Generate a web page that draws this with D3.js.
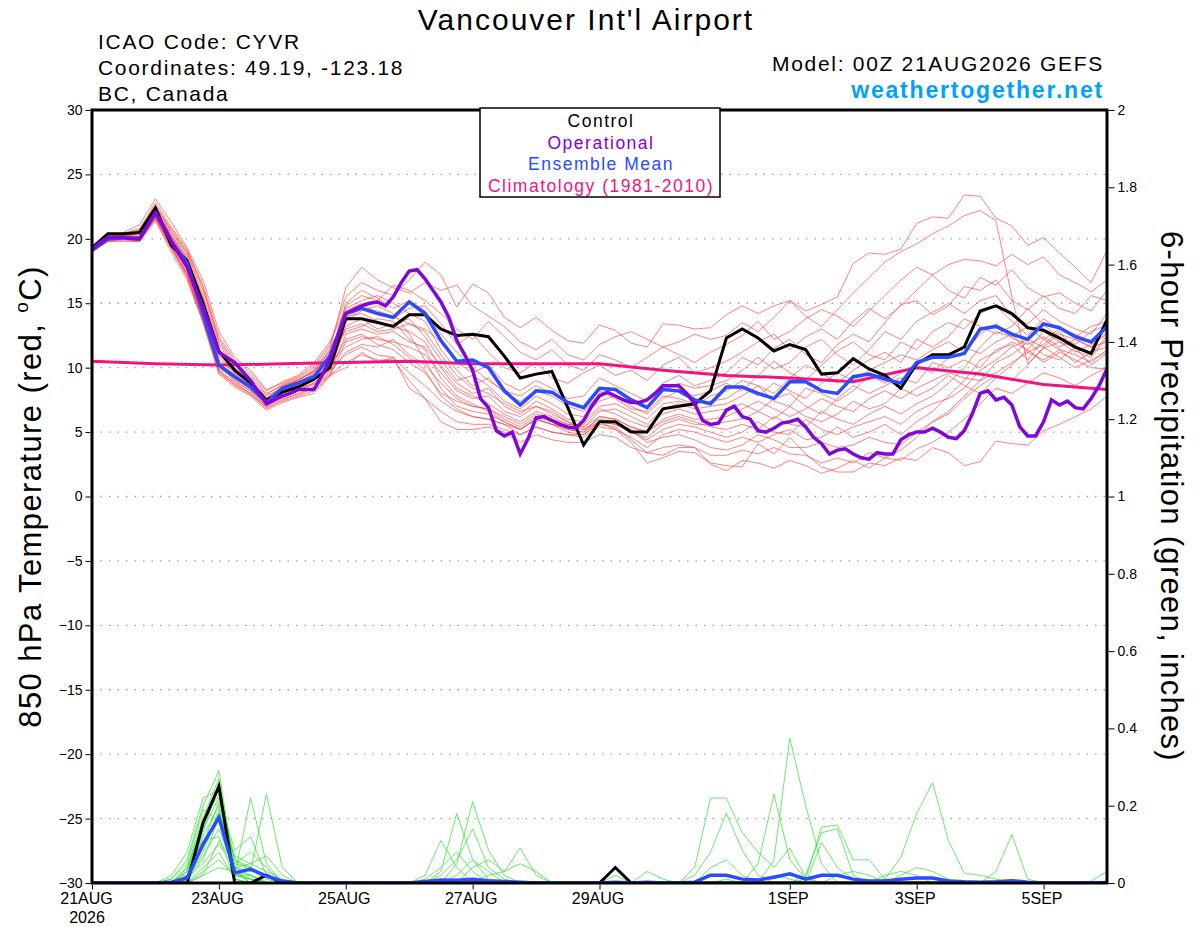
<!DOCTYPE html>
<html>
<head>
<meta charset="utf-8">
<script src="https://cdn.jsdelivr.net/npm/d3@7"></script>
<style>
  body { margin: 0; background: #fff; }
  svg { display: block; }
  text { font-family: "Liberation Sans", Arial, Helvetica, sans-serif; }
</style>
</head>
<body>
<div id="chart"></div>
<script>
// ---- data (6-hourly steps from 00Z 21AUG2026, 0..384 h) ----
const tickHours = [0, 48, 96, 144, 192, 264, 312, 360];
const tickLabels = ["21AUG", "23AUG", "25AUG", "27AUG", "29AUG", "1SEP", "3SEP", "5SEP"];
const tempTicks = [-30, -25, -20, -15, -10, -5, 0, 5, 10, 15, 20, 25, 30];
const precipTicks = [0, 0.2, 0.4, 0.6, 0.8, 1, 1.2, 1.4, 1.6, 1.8, 2];

const controlTemp = [19.3, 20.4, 20.4, 20.5, 22.4, 19.5, 18.3, 15.0, 11.3, 9.8, 8.8, 7.5, 8.1, 8.5, 9.1, 10.0,
  13.8, 13.8, 13.5, 13.2, 14.1, 14.1, 13.0, 12.5, 12.6, 12.4, 10.9, 9.2, 9.5, 9.7, 6.9, 4.0, 5.8, 5.8, 5.0, 5.0,
  6.8, 7.0, 7.2, 8.2, 12.3, 13.0, 12.3, 11.3, 11.8, 11.4, 9.5, 9.6, 10.7, 9.9, 9.4, 8.4, 10.3, 11.0, 11.0, 11.6,
  14.4, 14.8, 14.2, 13.1, 12.9, 12.3, 11.6, 11.1, 13.7];

const meanTemp = [19.1, 20.0, 20.1, 20.0, 22.0, 19.8, 18.1, 14.2, 10.2, 9.3, 8.5, 7.3, 8.4, 8.8, 9.3, 10.9,
  14.2, 14.6, 14.2, 13.9, 15.1, 14.2, 12.1, 10.5, 10.6, 10.0, 8.2, 7.1, 8.2, 8.1, 7.3, 6.9, 8.4, 8.3, 7.5, 6.9,
  8.3, 8.2, 7.5, 7.2, 8.5, 8.5, 8.0, 7.6, 8.9, 8.9, 8.2, 8.0, 9.3, 9.5, 9.1, 8.8, 10.4, 10.8, 10.8, 11.1,
  13.0, 13.2, 12.6, 12.2, 13.4, 13.1, 12.4, 12.0, 13.2];

// operational run is 3-hourly
const operationalTemp = [19.2, 19.7, 20.1, 20.1, 20.1, 20.0, 20.0, 21.0, 22.0, 21.0,
  19.8, 18.8, 17.8, 16.2, 14.7, 13.0, 11.2, 10.8, 10.4, 9.7,
  9.0, 8.1, 7.2, 7.5, 7.8, 8.0, 8.3, 8.3, 8.3, 9.4,
  10.6, 12.4, 14.2, 14.5, 14.8, 15.0, 15.1, 14.8, 15.5, 16.6,
  17.5, 17.6, 16.9, 16.0, 15.1, 13.9, 12.1, 11.0, 9.8, 7.6,
  6.9, 5.1, 4.7, 5.0, 3.3, 4.5, 6.1, 6.2, 5.9, 5.6,
  5.4, 5.3, 5.9, 7.0, 7.8, 8.1, 7.8, 7.5, 7.3, 7.3,
  7.5, 8.0, 8.6, 8.6, 8.6, 8.0, 7.2, 5.9, 5.6, 5.7,
  6.7, 7.0, 6.2, 6.0, 5.1, 5.0, 5.3, 5.7, 5.8, 6.0,
  5.4, 4.6, 4.1, 3.3, 3.6, 3.7, 3.3, 3.0, 2.9, 3.4,
  3.3, 3.3, 4.4, 4.8, 5.0, 5.0, 5.3, 5.0, 4.6, 4.5,
  5.1, 6.4, 8.0, 8.2, 7.5, 7.7, 7.1, 5.4, 4.7, 4.7,
  5.8, 7.5, 7.1, 7.4, 6.9, 6.8, 7.6, 8.6, 9.9];

// climatology, one value per day
const climatologyTemp = [10.5, 10.3, 10.2, 10.3, 10.4, 10.5, 10.3, 10.3, 10.3, 9.8, 9.4, 9.2, 8.9, 10.0, 9.5, 8.7, 8.3];

// ensemble members, 850 hPa temperature
const memberTemps = [
  [19.3,20.3,20.5,21.1,23.1,21.3,19.3,16.8,12.8,10.8,9.8,8.3,8.8,9.3,10.2,11.8, 15.5,16.6,16.0,15.6,16.8,18.2,
   17.2,14.7,16.5,15.8,13.9,13.1,13.9,12.9,12.1,11.9,13.3,12.9,11.9,11.6,13.4,13.3,13.0,13.1,
   14.1,14.8,14.2,14.8,15.2,14.4,14.9,15.5,18.1,18.9,18.8,19.2,21.2,21.7,21.6,23.4,23.3,21.6,21.0,19.5,20.1,18.9,17.8,16.6,19.1],
  [19.2,20.2,20.4,20.8,22.6,20.6,18.9,16.0,12.2,10.4,9.4,8.0,8.6,9.0,9.8,11.4, 16.2,17.8,16.8,16.2,15.8,16.6,
   16.0,16.4,14.8,14.0,13.2,12.0,11.4,12.2,11.0,10.6,11.8,12.4,12.8,12.2,11.6,12.0,12.6,12.2,
   12.5,13.5,12.8,13.9,15.2,14.0,13.2,14.5,15.8,17.0,18.2,19.0,19.6,20.4,21.0,21.8,22.2,21.4,15.5,10.3,11.5,12.0,11.6,11.0,12.5],
  [19.1,20.1,20.2,20.4,22.3,20.2,18.4,15.2,11.4,9.8,9.0,7.8,8.4,8.8,9.6,11.0, 14.8,15.6,15.2,16.4,16.0,15.2,
   14.2,13.0,12.2,13.6,12.4,11.2,10.6,11.4,10.2,9.8,11.0,10.6,10.0,10.8,11.6,11.0,10.4,11.2,
   11.8,12.5,13.6,12.2,12.8,13.8,14.5,14.0,13.2,14.4,15.6,16.8,17.8,17.2,18.0,18.4,18.3,17.9,18.8,18.0,18.6,17.2,16.6,15.9,16.8],
  [19.0,19.9,20.0,19.9,21.8,19.6,17.6,13.9,10.0,9.1,8.4,7.1,8.0,8.5,9.0,10.2, 14.4,15.0,14.2,13.8,14.6,14.8,
   13.4,11.8,12.6,11.2,10.0,9.6,10.4,9.2,8.8,9.6,10.2,9.4,9.8,9.0,10.2,10.8,9.6,10.0,
   10.5,11.2,12.0,12.6,11.4,12.4,13.0,12.2,13.6,14.6,13.8,14.8,16.0,17.2,16.0,15.4,17.0,16.4,17.6,16.2,15.5,15.8,15.0,14.4,16.0],
  [19.2,20.0,20.1,20.2,22.0,20.0,18.2,14.8,10.8,9.6,8.8,7.6,8.6,9.1,9.7,11.0, 13.8,14.6,14.4,14.0,13.4,13.0,
   12.0,10.4,9.6,10.2,8.8,8.2,9.0,8.4,7.6,7.8,9.2,8.6,8.0,7.4,8.8,9.4,8.6,9.0,
   9.6,10.8,10.2,11.5,12.2,11.0,10.4,11.8,12.6,12.0,13.5,14.9,15.2,14.1,14.8,16.3,16.0,16.8,15.2,14.5,15.6,14.6,14.2,15.6,15.2],
  [19.3,20.2,20.3,20.6,22.4,20.8,19.0,16.4,12.4,10.6,9.6,8.2,8.9,9.4,10.4,12.0, 14.6,15.2,15.6,15.0,14.2,13.6,
   11.4,9.8,8.6,9.2,8.0,7.4,8.2,7.8,7.0,6.6,8.0,8.4,7.6,7.0,8.2,8.8,8.4,8.6,
   9.0,9.8,10.8,9.9,10.4,11.6,12.2,11.0,10.2,11.4,12.8,12.2,13.6,14.3,15.0,14.2,15.2,15.6,14.0,13.4,14.5,13.6,13.0,12.6,14.2],
  [19.0,19.8,19.9,19.8,21.6,19.3,17.3,13.8,9.8,8.9,8.2,7.0,7.8,8.2,8.8,9.8, 13.2,13.8,13.0,13.4,13.8,12.4,
   10.6,9.0,9.4,8.6,7.4,6.8,7.8,7.2,6.4,6.2,7.4,7.8,7.0,6.4,7.6,8.2,7.8,8.2,
   8.8,8.2,9.4,10.5,9.6,9.0,10.2,11.3,12.0,11.0,10.6,12.0,11.4,12.8,13.5,13.0,14.2,14.8,13.6,12.5,13.8,13.0,12.4,13.2,13.6],
  [19.1,20.0,20.1,20.0,21.5,19.2,17.0,13.6,9.6,8.7,8.0,6.8,7.5,8.0,8.5,9.5, 12.6,13.0,12.6,12.8,12.0,11.6,
   10.2,8.8,8.0,8.4,7.0,6.4,7.4,6.8,6.0,5.8,7.0,7.2,6.6,6.0,7.2,7.4,7.0,7.8,
   8.2,9.0,8.6,8.0,9.2,10.2,9.6,8.8,9.8,10.6,11.2,10.4,12.2,11.6,12.4,13.8,13.2,12.6,13.2,14.6,13.3,12.4,11.8,12.8,13.3],
  [19.2,20.2,20.2,20.5,22.6,20.5,18.8,15.6,11.8,10.0,9.0,7.6,8.2,8.7,9.4,10.6, 15.0,16.0,15.4,14.6,15.2,14.4,
   12.6,11.2,10.0,9.0,8.2,7.8,8.6,8.0,7.2,7.0,8.2,7.6,6.8,6.6,7.8,7.6,7.2,7.4,
   7.6,8.4,7.8,8.8,8.2,7.6,8.8,9.6,9.0,9.8,10.4,11.0,10.6,11.4,12.0,11.2,12.6,13.4,12.3,11.8,12.4,11.6,12.2,11.6,12.8],
  [19.0,19.8,19.8,19.8,21.4,19.0,16.8,13.5,9.5,8.5,7.8,6.7,7.3,7.7,8.0,9.3, 12.0,12.4,12.2,12.0,11.6,11.0,
   9.6,8.2,7.6,7.8,6.6,6.2,7.0,6.6,5.8,5.4,6.6,6.8,6.2,5.6,6.8,7.2,6.8,7.0,
   7.2,7.8,8.6,7.4,7.0,8.4,8.0,7.4,8.2,9.4,8.8,9.6,10.2,9.6,10.8,11.6,11.1,12.0,12.6,11.2,11.8,12.8,11.3,10.8,12.3],
  [19.2,20.1,20.3,20.4,22.2,20.1,18.3,14.6,10.6,9.5,8.6,7.4,8.5,9.0,9.8,11.3, 14.0,14.2,13.6,13.2,12.8,12.0,
   10.0,8.4,7.8,7.2,6.4,5.8,6.6,6.2,5.6,5.6,6.8,6.4,5.8,5.4,6.4,6.8,6.4,6.6,
   6.8,7.2,6.6,7.6,8.0,7.0,6.4,7.6,8.6,8.0,8.6,9.2,8.8,10.4,10.0,10.6,10.0,11.4,11.8,10.6,12.2,11.4,10.4,11.2,11.6],
  [19.1,19.9,20.0,20.1,21.7,19.5,17.4,14.0,10.2,9.0,8.2,7.2,7.9,8.3,8.7,9.6, 11.2,11.8,11.6,12.2,11.0,10.2,
   8.8,7.6,7.0,6.8,6.0,5.4,6.2,5.8,5.2,5.0,6.2,6.0,5.4,5.0,6.0,6.4,6.0,6.0,
   6.2,6.8,7.4,6.8,6.2,6.8,7.6,7.0,6.6,7.6,8.2,7.6,8.4,9.0,9.6,9.2,9.0,10.4,11.0,12.0,11.0,10.6,11.6,10.2,11.1],
  [19.2,20.1,20.2,20.3,22.5,20.3,18.6,15.0,11.0,9.6,8.7,7.5,8.4,8.9,9.5,10.8, 13.0,13.4,12.8,13.0,13.4,12.8,
   11.0,9.4,8.4,8.0,7.2,6.6,7.0,6.4,5.8,5.2,5.8,5.6,5.0,4.6,5.6,6.0,5.6,5.6,
   5.8,6.0,6.6,6.0,7.0,6.2,5.8,6.4,7.4,6.8,7.2,8.4,7.8,8.4,9.4,8.6,8.0,9.2,10.2,11.4,10.4,11.2,10.6,10.0,9.9],
  [19.0,19.9,20.0,19.9,21.9,19.7,17.8,14.4,10.4,9.2,8.4,7.3,8.1,8.6,9.1,10.0, 12.2,12.6,11.8,11.4,10.4,9.6,
   8.0,7.4,7.0,6.8,6.2,5.6,6.4,6.0,5.6,5.4,6.2,6.0,5.4,5.0,5.8,6.2,5.8,5.4,
   5.2,5.6,5.2,6.2,5.6,5.4,6.6,6.0,5.6,6.4,7.0,6.4,7.2,7.8,8.8,10.0,11.6,12.8,12.4,13.2,12.2,13.0,12.6,12.0,13.0],
  [19.1,20.0,20.1,20.2,22.0,19.9,17.9,14.2,10.3,9.2,8.3,7.2,8.0,8.4,8.8,9.8, 11.0,11.6,11.0,10.8,9.6,8.6,
   7.4,6.6,6.2,6.0,5.6,5.2,6.0,5.6,5.2,5.0,5.8,5.6,5.0,4.4,5.2,5.6,5.4,5.0,
   4.6,5.0,5.8,5.0,4.8,6.0,5.2,4.8,5.4,5.8,6.2,5.6,6.6,7.2,7.6,8.4,9.8,10.6,11.6,12.2,11.6,12.6,12.2,11.6,12.0],
  [19.0,19.8,20.0,19.9,21.6,19.4,17.2,13.7,9.8,8.8,8.0,7.0,7.6,7.9,8.4,9.4, 10.4,11.0,10.6,10.6,9.0,7.6,
   6.6,5.8,5.6,5.6,5.2,4.8,5.4,5.0,4.8,4.6,5.4,5.2,4.6,3.8,4.8,5.2,5.0,4.6,
   4.2,4.6,4.2,4.8,5.2,4.4,4.6,5.4,4.6,5.0,5.6,4.8,5.8,6.6,7.8,9.0,10.6,11.2,12.0,11.4,12.8,12.0,11.2,11.8,12.6],
  [19.3,20.2,20.4,20.7,22.8,20.9,19.2,16.2,12.0,10.2,9.2,7.9,8.7,9.2,10.0,11.6, 13.6,14.4,14.8,14.2,12.6,10.6,
   8.4,7.0,6.6,6.4,5.8,5.2,6.0,5.6,5.4,5.2,6.0,5.8,5.2,4.2,4.6,4.8,4.4,3.8,
   3.6,4.0,4.8,4.4,3.8,3.8,4.2,3.8,4.0,4.6,4.2,4.0,5.0,5.8,6.4,7.6,8.6,9.4,9.0,10.2,11.6,10.8,10.0,10.6,11.2],
  [19.1,20.0,20.2,20.1,21.9,19.8,17.9,14.4,10.4,9.3,8.5,7.3,8.2,8.7,9.2,10.4, 11.6,12.2,12.4,11.8,10.8,9.8,
   7.8,6.8,6.2,6.0,5.6,4.8,5.4,5.0,4.8,4.8,5.6,5.4,4.4,3.4,3.8,4.0,3.8,3.2,
   3.2,3.6,3.3,3.8,3.3,3.2,2.6,3.0,2.6,3.4,3.0,3.6,4.6,5.8,6.6,7.8,9.0,9.6,10.4,11.2,10.6,11.4,11.0,10.4,11.4],
  [19.2,20.1,20.3,20.4,22.3,20.2,18.5,15.4,11.2,9.8,8.8,7.6,8.5,9.0,9.7,11.2, 12.8,13.2,13.8,13.6,12.2,11.4,
   9.2,7.8,7.2,6.6,5.8,5.2,6.0,5.6,5.0,4.8,5.8,5.2,4.2,2.6,3.0,3.5,3.4,2.6,
   2.4,2.3,4.1,3.3,4.6,3.3,2.3,1.9,1.9,2.6,2.4,3.0,2.8,3.8,3.4,2.4,2.7,4.3,4.1,4.0,5.1,5.6,6.2,6.8,7.8],
  [19.0,19.9,20.0,20.0,21.7,19.4,17.1,13.6,9.7,8.6,7.9,6.9,7.4,7.8,8.2,9.4, 10.0,11.2,10.4,10.8,8.4,7.6,
   5.8,5.2,5.2,5.4,5.0,4.2,4.8,4.4,4.2,4.2,4.8,4.6,3.8,3.4,3.2,3.8,3.8,2.5,
   2.0,2.8,2.6,2.2,2.8,2.4,1.8,2.2,2.8,2.2,3.0,2.8,3.7,4.2,5.0,6.0,7.2,8.4,8.0,8.8,9.6,9.2,8.6,9.4,10.0]
];

// 6-hour precipitation (inches): control and ensemble mean, 65 steps
const controlPrecip = [0, 0, 0, 0, 0, 0, 0, 0.155, 0.25, 0, 0, 0.02, 0, 0, 0, 0,
  0, 0, 0, 0, 0, 0, 0, 0, 0, 0, 0, 0, 0, 0, 0, 0, 0, 0.04, 0, 0,
  0, 0, 0, 0, 0, 0, 0, 0, 0, 0, 0, 0, 0, 0, 0, 0, 0, 0, 0, 0,
  0, 0, 0, 0, 0, 0, 0, 0, 0];
const meanPrecip = [0, 0, 0, 0, 0, 0.002, 0.013, 0.10, 0.17, 0.026, 0.036, 0.018, 0.005, 0, 0, 0,
  0, 0, 0, 0, 0, 0.004, 0.008, 0.007, 0.01, 0.006, 0.004, 0.002, 0, 0, 0, 0, 0, 0.002, 0, 0.002,
  0, 0, 0.002, 0.02, 0.02, 0.01, 0.008, 0.015, 0.024, 0.01, 0.02, 0.02, 0.01, 0.005, 0.005, 0.01, 0.013, 0.013, 0.005, 0.003,
  0.002, 0.003, 0.006, 0.002, 0, 0, 0, 0, 0.001];

// ensemble members, precipitation: [step, inches] for every non-zero step
const memberPrecip = [
  [[5,.01],[6,.06],[7,.2],[8,.29],[9,.03],[10,.01],[21,.02],[22,.11],[23,.04]],
  [[6,.04],[7,.17],[8,.27],[9,.02],[10,.22],[11,.05],[33,.02],[38,.04],[39,.22],[40,.22],[41,.13],[42,.08],[43,.04],[44,.09],[45,.015]],
  [[5,.02],[6,.08],[7,.22],[8,.24],[9,.06],[10,.03],[11,.23],[12,.04],[22,.03],[23,.18],[24,.06],[25,.01]],
  [[6,.03],[7,.14],[8,.22],[9,.085],[10,.12],[11,.02],[50,.01],[51,.067],[52,.18],[53,.26],[54,.11],[55,.025],[56,.02],[57,.01]],
  [[6,.02],[7,.12],[8,.2],[9,.04],[10,.05],[11,.07],[12,.02],[23,.05],[24,.21],[25,.085],[26,.02]],
  [[5,.01],[6,.05],[7,.19],[8,.16],[9,.02],[10,.02],[38,.02],[39,.08],[40,.18],[41,.085],[42,.02]],
  [[6,.02],[7,.09],[8,.18],[9,.05],[10,.08],[11,.04],[24,.04],[25,.06],[26,.03],[27,.09],[28,.02],[57,.03],[58,.125],[59,.01]],
  [[6,.01],[7,.07],[8,.14],[9,.03],[10,.02],[42,.05],[43,.23],[44,.06],[45,.01]],
  [[6,.03],[7,.11],[8,.12],[9,.01],[21,.01],[22,.04],[23,.08],[24,.03],[63,.005],[64,.03]],
  [[6,.01],[7,.05],[8,.1],[9,.04],[10,.03],[11,.02],[35,.03],[36,.01],[51,.02],[52,.04],[53,.03],[54,.01]],
  [[7,.03],[8,.06],[9,.02],[10,.01],[43,.06],[44,.375],[45,.2],[46,.05]],
  [[6,.02],[7,.1],[8,.21],[9,.06],[10,.04],[11,.01],[22,.02],[23,.06],[24,.14],[25,.04],[26,.01],[50,.02],[51,.03],[52,.02]],
  [[7,.02],[8,.04],[9,.03],[45,.01],[46,.145],[47,.15],[48,.06],[49,.06],[50,.01]],
  [[6,.04],[7,.15],[8,.25],[9,.01],[45,.02],[46,.13],[47,.14],[48,.02]],
  [[6,.01],[7,.06],[8,.17],[9,.07],[10,.05],[11,.03],[12,.01],[25,.02],[26,.03],[27,.05],[28,.03]],
  [[7,.04],[8,.08],[9,.01],[46,.105],[47,.04],[48,.01]],
  [[6,.02],[7,.13],[8,.26],[9,.03],[47,.02],[48,.03],[49,.02]],
  [[6,.01],[7,.08],[8,.19],[9,.04],[10,.02],[23,.02],[24,.06],[25,.03]],
  [[7,.02],[8,.11],[9,.05],[10,.04],[39,.04],[40,.06],[41,.02]],
  [[6,.03],[7,.16],[8,.23],[9,.02],[10,.01],[40,.01],[43,.02],[44,.01]]
];

// ---- layout ----
const width = 1200, height = 927;
const plotLeft = 92, plotRight = 1107, plotTop = 110, plotBottom = 883;

const svg = d3.select("#chart").append("svg")
  .attr("width", width)
  .attr("height", height);

const x = d3.scaleLinear().domain([0, 384]).range([plotLeft, plotRight]);
const yTemp = d3.scaleLinear().domain([-30, 30]).range([plotBottom, plotTop]);
const yPrecip = d3.scaleLinear().domain([0, 2]).range([plotBottom, plotTop]);

svg.append("defs").append("clipPath").attr("id", "plotClip")
  .append("rect")
  .attr("x", plotLeft).attr("y", plotTop - 2)
  .attr("width", plotRight - plotLeft).attr("height", plotBottom - plotTop + 2);

// grid lines on the temperature ticks
svg.append("g")
  .selectAll("line")
  .data(tempTicks.filter(d => d > -30 && d < 30))
  .join("line")
  .attr("x1", plotLeft).attr("x2", plotRight)
  .attr("y1", d => yTemp(d)).attr("y2", d => yTemp(d))
  .attr("stroke", "#a0a0a0")
  .attr("stroke-width", 1.3)
  .attr("stroke-dasharray", "1.5,7");

const plot = svg.append("g").attr("clip-path", "url(#plotClip)");

const tempLine6 = d3.line().x((d, i) => x(i * 6)).y(d => yTemp(d));
const tempLine3 = d3.line().x((d, i) => x(i * 3)).y(d => yTemp(d));
const tempLine24 = d3.line().x((d, i) => x(i * 24)).y(d => yTemp(d));
const precipLine = d3.line().x((d, i) => x(i * 6)).y(d => yPrecip(d));

// red members
plot.append("g")
  .selectAll("path")
  .data(memberTemps)
  .join("path")
  .attr("d", tempLine6)
  .attr("fill", "none")
  .attr("stroke", "#ff3b3b")
  .attr("stroke-opacity", 0.8)
  .attr("stroke-width", 0.8);

// green members, zero everywhere except the listed steps
const memberPrecipSeries = memberPrecip.map(pairs => {
  const series = controlPrecip.map(() => 0);
  pairs.forEach(([step, value]) => { series[step] = value; });
  return series;
});

plot.append("g")
  .selectAll("path")
  .data(memberPrecipSeries)
  .join("path")
  .attr("d", precipLine)
  .attr("fill", "none")
  .attr("stroke", "#2ee02e")
  .attr("stroke-opacity", 0.9)
  .attr("stroke-width", 0.8);

plot.append("path")
  .attr("d", tempLine24(climatologyTemp))
  .attr("fill", "none")
  .attr("stroke", "#f0147f")
  .attr("stroke-width", 3);

plot.append("path")
  .attr("d", precipLine(controlPrecip))
  .attr("fill", "none")
  .attr("stroke", "#000")
  .attr("stroke-width", 3)
  .attr("stroke-linejoin", "miter");

plot.append("path")
  .attr("d", precipLine(meanPrecip))
  .attr("fill", "none")
  .attr("stroke", "#2a4bff")
  .attr("stroke-width", 3.5);

plot.append("path")
  .attr("d", tempLine6(controlTemp))
  .attr("fill", "none")
  .attr("stroke", "#000")
  .attr("stroke-width", 3);

plot.append("path")
  .attr("d", tempLine6(meanTemp))
  .attr("fill", "none")
  .attr("stroke", "#2a4bff")
  .attr("stroke-width", 3.5);

plot.append("path")
  .attr("d", tempLine3(operationalTemp))
  .attr("fill", "none")
  .attr("stroke", "#7f08d8")
  .attr("stroke-width", 3.5);

// frame
svg.append("rect")
  .attr("x", plotLeft).attr("y", plotTop)
  .attr("width", plotRight - plotLeft).attr("height", plotBottom - plotTop)
  .attr("fill", "none")
  .attr("stroke", "#000")
  .attr("stroke-width", 3);

// axes
const leftAxis = svg.append("g")
  .attr("transform", `translate(${plotLeft - 1.5},0)`)
  .call(d3.axisLeft(yTemp).tickValues(tempTicks).tickSize(5).tickPadding(3).tickFormat(d3.format("d")));
leftAxis.select(".domain").remove();
leftAxis.selectAll("text").attr("font-size", 14).attr("fill", "#000")
  .style("font-family", "'Liberation Sans', Arial, sans-serif");

const rightAxis = svg.append("g")
  .attr("transform", `translate(${plotRight + 1.5},0)`)
  .call(d3.axisRight(yPrecip).tickValues(precipTicks).tickSize(6).tickPadding(3).tickFormat(d3.format("~g")));
rightAxis.select(".domain").remove();
rightAxis.selectAll("text").attr("font-size", 14).attr("fill", "#000")
  .style("font-family", "'Liberation Sans', Arial, sans-serif");

const bottomAxis = svg.append("g")
  .attr("transform", `translate(0,${plotBottom + 1.5})`)
  .call(d3.axisBottom(x).tickValues(tickHours).tickSize(5).tickPadding(3)
    .tickFormat((d, i) => tickLabels[i]));
bottomAxis.select(".domain").remove();
bottomAxis.selectAll("text").attr("font-size", 16).attr("fill", "#000")
  .attr("dx", (d, i) => i === 0 ? -6 : -2)
  .style("font-family", "'Liberation Sans Narrow', 'Liberation Sans', Arial, sans-serif");

svg.append("text")
  .attr("x", x(0) - 5).attr("y", 923)
  .attr("text-anchor", "middle")
  .attr("font-size", 16)
  .style("font-family", "'Liberation Sans Narrow', 'Liberation Sans', Arial, sans-serif")
  .text("2026");

// axis titles
const leftTitle = svg.append("text")
  .attr("transform", `translate(41,${(plotTop + plotBottom) / 2}) rotate(-90)`)
  .attr("text-anchor", "middle")
  .attr("font-size", 31)
  .attr("letter-spacing", 1.4);
leftTitle.append("tspan").text("850 hPa Temperature (red, ");
leftTitle.append("tspan").attr("font-size", 19).attr("dy", -13).text("o");
leftTitle.append("tspan").attr("dy", 13).text("C)");

svg.append("text")
  .attr("transform", `translate(1161,${(plotTop + plotBottom) / 2}) rotate(90)`)
  .attr("text-anchor", "middle")
  .attr("font-size", 31)
  .attr("letter-spacing", 1.3)
  .text("6-hour Precipitation (green, inches)");

// header
svg.append("text")
  .attr("x", 586).attr("y", 30)
  .attr("text-anchor", "middle")
  .attr("font-size", 30)
  .attr("letter-spacing", 2)
  .text("Vancouver Int'l Airport");

const infoLines = ["ICAO Code: CYVR", "Coordinates: 49.19, -123.18", "BC, Canada"];
svg.append("g")
  .selectAll("text")
  .data(infoLines)
  .join("text")
  .attr("x", 98)
  .attr("y", (d, i) => 49 + i * 26)
  .attr("font-size", 21)
  .attr("letter-spacing", 1.7)
  .text(d => d);

svg.append("text")
  .attr("x", 1104).attr("y", 71)
  .attr("text-anchor", "end")
  .attr("font-size", 21)
  .attr("letter-spacing", 1.7)
  .text("Model: 00Z 21AUG2026 GEFS");

svg.append("text")
  .attr("x", 1104).attr("y", 98)
  .attr("text-anchor", "end")
  .attr("font-size", 23)
  .attr("font-weight", "bold")
  .attr("letter-spacing", 1.8)
  .attr("fill", "#00a0ff")
  .text("weathertogether.net");

// legend
const legendItems = [
  { label: "Control", color: "#000" },
  { label: "Operational", color: "#8000e0" },
  { label: "Ensemble Mean", color: "#2a4bff" },
  { label: "Climatology (1981-2010)", color: "#f0147f" }
];
svg.append("rect")
  .attr("x", 480).attr("y", 108)
  .attr("width", 240).attr("height", 89)
  .attr("fill", "#fff")
  .attr("stroke", "#000")
  .attr("stroke-width", 1.5);
svg.append("g")
  .selectAll("text")
  .data(legendItems)
  .join("text")
  .attr("x", 601)
  .attr("y", (d, i) => 127 + i * 21.5)
  .attr("text-anchor", "middle")
  .attr("font-size", 17.5)
  .attr("letter-spacing", 1.5)
  .attr("fill", d => d.color)
  .text(d => d.label);
</script>
</body>
</html>
